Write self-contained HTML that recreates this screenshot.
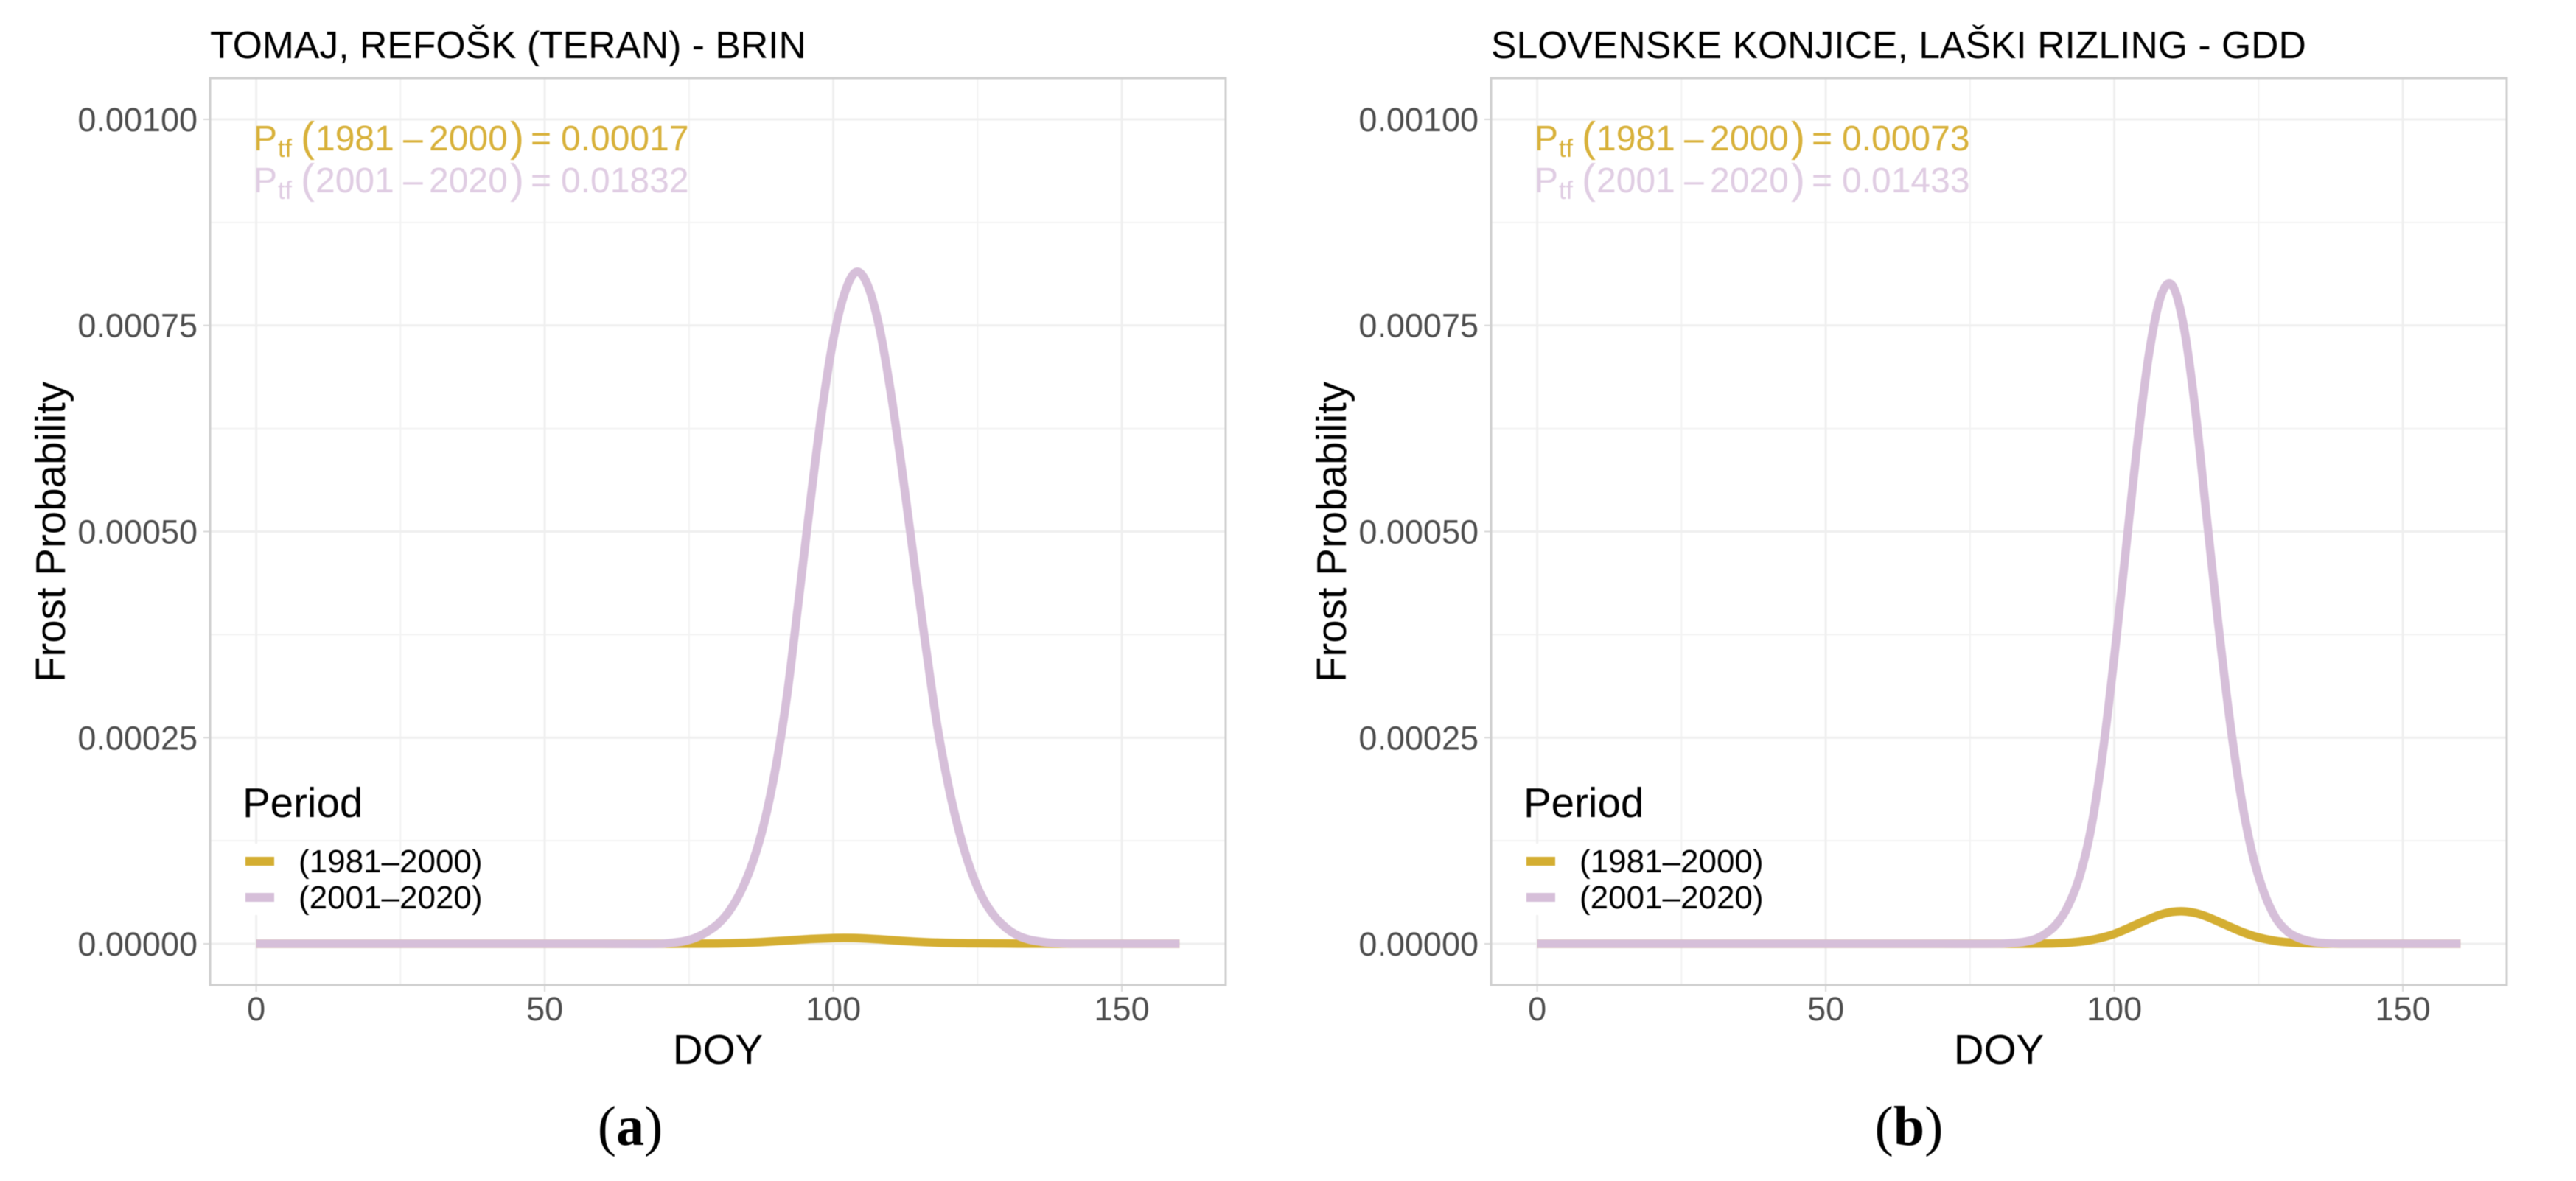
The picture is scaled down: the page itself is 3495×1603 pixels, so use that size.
<!DOCTYPE html>
<html lang="en">
<head>
<meta charset="utf-8">
<title>Frost probability by DOY</title>
<style>
html,body{margin:0;padding:0;background:#fff;}
svg{display:block;filter:blur(0.6px);}
text{font-family:"Liberation Sans",sans-serif;}
.title{font-size:51.7px;fill:#000;}
.axis-title{font-size:56.5px;fill:#000;}
.tick{font-size:45px;fill:#4d4d4d;}
.legend-title{font-size:56.5px;fill:#000;}
.legend-label{font-size:44px;fill:#000;}
.ann{font-size:48px;}
.ann-sub{font-size:34px;}
.ann-paren{font-size:57px;}
.gold{fill:#d8b13a;}
.thistle{fill:#e0cde3;}
.caption{font-family:"Liberation Serif",serif;font-size:76px;fill:#000;}
</style>
</head>
<body>
<svg id="figure" xmlns="http://www.w3.org/2000/svg" width="3495" height="1603" viewBox="0 0 3495 1603">
  <rect x="0" y="0" width="3495" height="1603" fill="#ffffff"/>

  <g id="panel-a">
    <g class="plot-grid"></g>
    <g class="plot-ticks"></g>
    <rect x="331" y="1145" width="43" height="97" fill="#ffffff"/>
    <g class="plot-series"></g>
    <rect x="285" y="106" width="1378" height="1231" fill="none" stroke="#cfcfcf" stroke-width="3"/>
    <text class="title" x="285" y="79">TOMAJ, REFOŠK (TERAN) - BRIN</text>
    <text class="axis-title" x="974" y="1444" text-anchor="middle">DOY</text>
    <text class="axis-title" transform="translate(88,722) rotate(-90)" text-anchor="middle">Frost Probability</text>

    <g class="gold">
      <text class="ann" x="344" y="204">P</text><text class="ann-sub" x="377" y="213">tf</text>
      <text class="ann-paren" x="408" y="205">(</text><text class="ann" x="428" y="204">1981</text>
      <text class="ann" x="547" y="204">–</text><text class="ann" x="582" y="204">2000</text>
      <text class="ann-paren" x="692" y="205">)</text><text class="ann" x="720" y="204">=</text>
      <text class="ann" x="761" y="204">0.00017</text>
    </g>
    <g class="thistle">
      <text class="ann" x="344" y="261">P</text><text class="ann-sub" x="377" y="270">tf</text>
      <text class="ann-paren" x="408" y="262">(</text><text class="ann" x="428" y="261">2001</text>
      <text class="ann" x="547" y="261">–</text><text class="ann" x="582" y="261">2020</text>
      <text class="ann-paren" x="692" y="262">)</text><text class="ann" x="720" y="261">=</text>
      <text class="ann" x="761" y="261">0.01832</text>
    </g>

    <text class="legend-title" x="329" y="1109">Period</text>
    <rect x="333" y="1163" width="39" height="12" fill="#d4ae32"/>
    <rect x="333" y="1212" width="39" height="12" fill="#d6bfd9"/>
    <text class="legend-label" x="405" y="1184">(1981–2000)</text>
    <text class="legend-label" x="405" y="1233">(2001–2020)</text>
  </g>

  <g id="panel-b" transform="translate(1738,0)">
    <g class="plot-grid"></g>
    <g class="plot-ticks"></g>
    <rect x="331" y="1145" width="43" height="97" fill="#ffffff"/>
    <g class="plot-series"></g>
    <rect x="285" y="106" width="1378" height="1231" fill="none" stroke="#cfcfcf" stroke-width="3"/>
    <text class="title" x="285" y="79">SLOVENSKE KONJICE, LAŠKI RIZLING - GDD</text>
    <text class="axis-title" x="974" y="1444" text-anchor="middle">DOY</text>
    <text class="axis-title" transform="translate(88,722) rotate(-90)" text-anchor="middle">Frost Probability</text>

    <g class="gold">
      <text class="ann" x="344" y="204">P</text><text class="ann-sub" x="377" y="213">tf</text>
      <text class="ann-paren" x="408" y="205">(</text><text class="ann" x="428" y="204">1981</text>
      <text class="ann" x="547" y="204">–</text><text class="ann" x="582" y="204">2000</text>
      <text class="ann-paren" x="692" y="205">)</text><text class="ann" x="720" y="204">=</text>
      <text class="ann" x="761" y="204">0.00073</text>
    </g>
    <g class="thistle">
      <text class="ann" x="344" y="261">P</text><text class="ann-sub" x="377" y="270">tf</text>
      <text class="ann-paren" x="408" y="262">(</text><text class="ann" x="428" y="261">2001</text>
      <text class="ann" x="547" y="261">–</text><text class="ann" x="582" y="261">2020</text>
      <text class="ann-paren" x="692" y="262">)</text><text class="ann" x="720" y="261">=</text>
      <text class="ann" x="761" y="261">0.01433</text>
    </g>

    <text class="legend-title" x="329" y="1109">Period</text>
    <rect x="333" y="1163" width="39" height="12" fill="#d4ae32"/>
    <rect x="333" y="1212" width="39" height="12" fill="#d6bfd9"/>
    <text class="legend-label" x="405" y="1184">(1981–2000)</text>
    <text class="legend-label" x="405" y="1233">(2001–2020)</text>
  </g>

  <text class="caption" x="855" y="1554" text-anchor="middle">(<tspan font-weight="bold">a</tspan>)</text>
  <text class="caption" x="2590" y="1554" text-anchor="middle">(<tspan font-weight="bold">b</tspan>)</text>
</svg>

<script>
// Axis ticks
const xMajorTicks = [0, 50, 100, 150];
const xMinorTicks = [25, 75, 125];
const xTickLabels = ["0", "50", "100", "150"];
const yMajorTicks = [0, 0.00025, 0.0005, 0.00075, 0.001];
const yMinorTicks = [0.000125, 0.000375, 0.000625, 0.000875];
const yTickLabels = ["0.00000", "0.00025", "0.00050", "0.00075", "0.00100"];

// Panel a: TOMAJ, REFOSK (TERAN) - BRIN
const doyGoldA = [0, 60, 70, 76, 80, 84, 88, 92, 96, 100, 102, 104, 108, 112, 116, 120, 124, 128, 132, 136, 140, 160];
const probGoldA = [0, 0, 0, 0.0000001, 0.0000003, 0.000001, 0.0000023, 0.000004, 0.0000058, 0.000007, 0.0000072, 0.000007, 0.0000055, 0.0000035, 0.000002, 0.000001, 0.0000006, 0.0000004, 0.0000002, 0.0000001, 0, 0];
const doyThistleA = [0, 60, 70, 72, 74, 76, 78, 80, 82, 84, 86, 88, 90, 92, 94, 96, 98, 100, 102, 104, 106, 108, 110, 112, 114, 116, 118, 120, 122, 124, 126, 128, 130, 132, 134, 136, 138, 140, 142, 160];
const probThistleA = [0, 0, 0, 0.0000012, 0.000003, 0.000007, 0.000014, 0.000024, 0.00004, 0.000064, 0.000098, 0.000146, 0.000213, 0.000302, 0.000417, 0.000535, 0.000645, 0.000733, 0.00079, 0.000815, 0.000798, 0.000747, 0.000667, 0.00057, 0.000464, 0.000362, 0.000265, 0.00019, 0.000131, 0.000086, 0.000054, 0.000033, 0.000019, 0.00001, 0.000005, 0.0000025, 0.000001, 0.0000004, 0, 0];

// Panel b: SLOVENSKE KONJICE, LASKI RIZLING - GDD
const doyGoldB = [0, 70, 84, 86, 88, 90, 92, 94, 96, 98, 100, 102, 104, 106, 108, 110, 112, 114, 116, 118, 120, 122, 124, 126, 128, 130, 132, 134, 136, 138, 140, 160];
const probGoldB = [0, 0, 0, 0.0000001, 0.00000025, 0.0000006, 0.0000013, 0.0000026, 0.0000047, 0.0000078, 0.000012, 0.0000177, 0.000024, 0.00003, 0.0000354, 0.0000387, 0.0000394, 0.0000374, 0.000033, 0.000027, 0.0000208, 0.0000148, 0.0000098, 0.0000061, 0.0000035, 0.0000019, 0.000001, 0.00000045, 0.0000002, 0.0000001, 0, 0];
const doyThistleB = [0, 70, 80, 82, 84, 86, 88, 90, 92, 94, 96, 98, 100, 102, 104, 106, 108, 110, 112, 114, 116, 118, 120, 122, 124, 126, 128, 130, 132, 134, 136, 138, 140, 160];
const probThistleB = [0, 0, 0, 0.0000008, 0.000002, 0.000005, 0.000012, 0.000024, 0.000046, 0.000082, 0.000141, 0.000232, 0.000348, 0.000478, 0.000607, 0.000715, 0.000784, 0.000799, 0.00075, 0.00065, 0.000518, 0.000389, 0.000272, 0.000177, 0.000107, 0.000061, 0.000031, 0.000015, 0.000007, 0.000003, 0.0000011, 0.0000004, 0, 0];

const SVG_NS = "http://www.w3.org/2000/svg";
const PLOT = {left: 285, right: 1663, top: 106, bottom: 1337, xMin: -8, xMax: 168, yMin: -0.00005, yMax: 0.00105};

function xScale(d) {
  return PLOT.left + (d - PLOT.xMin) / (PLOT.xMax - PLOT.xMin) * (PLOT.right - PLOT.left);
}
function yScale(v) {
  return PLOT.bottom - (v - PLOT.yMin) / (PLOT.yMax - PLOT.yMin) * (PLOT.bottom - PLOT.top);
}
function makeLine(x1, y1, x2, y2, color, width) {
  const el = document.createElementNS(SVG_NS, "line");
  el.setAttribute("x1", x1);
  el.setAttribute("y1", y1);
  el.setAttribute("x2", x2);
  el.setAttribute("y2", y2);
  el.setAttribute("stroke", color);
  el.setAttribute("stroke-width", width);
  return el;
}
function smoothPath(xs, ys) {
  const pts = xs.map(function (d, i) { return [xScale(d), yScale(ys[i])]; });
  let path = "M" + pts[0][0].toFixed(2) + " " + pts[0][1].toFixed(2);
  for (let i = 0; i < pts.length - 1; i++) {
    const p0 = pts[Math.max(i - 1, 0)];
    const p1 = pts[i];
    const p2 = pts[i + 1];
    const p3 = pts[Math.min(i + 2, pts.length - 1)];
    const span = p2[0] - p1[0];
    const t1 = (p2[1] - p0[1]) / (p2[0] - p0[0] || 1);
    const t2 = (p3[1] - p1[1]) / (p3[0] - p1[0] || 1);
    path += " C" + (p1[0] + span / 3).toFixed(2) + " " + (p1[1] + t1 * span / 3).toFixed(2) +
            " " + (p2[0] - span / 3).toFixed(2) + " " + (p2[1] - t2 * span / 3).toFixed(2) +
            " " + p2[0].toFixed(2) + " " + p2[1].toFixed(2);
  }
  return path;
}
function drawGrid(panelId) {
  const grid = document.querySelector("#" + panelId + " .plot-grid");
  yMinorTicks.forEach(function (v) {
    const ln = makeLine(PLOT.left, yScale(v), PLOT.right, yScale(v), "#f3f3f3", 2);
    
    
    grid.appendChild(ln);
  });
  xMinorTicks.forEach(function (d) {
    const ln = makeLine(xScale(d), PLOT.top, xScale(d), PLOT.bottom, "#f3f3f3", 2);
    
    
    grid.appendChild(ln);
  });
  yMajorTicks.forEach(function (v) {
    const ln = makeLine(PLOT.left, yScale(v), PLOT.right, yScale(v), "#efefef", 3);
    
    
    grid.appendChild(ln);
  });
  xMajorTicks.forEach(function (d) {
    const ln = makeLine(xScale(d), PLOT.top, xScale(d), PLOT.bottom, "#efefef", 3);
    
    
    grid.appendChild(ln);
  });
}
function drawTicks(panelId) {
  const group = document.querySelector("#" + panelId + " .plot-ticks");
  xMajorTicks.forEach(function (d, i) {
    const mark = makeLine(xScale(d), PLOT.bottom, xScale(d), PLOT.bottom + 9, "#d8d8d8", 2);
    
    
    group.appendChild(mark);
    const label = document.createElementNS(SVG_NS, "text");
    label.setAttribute("class", "tick");
    label.setAttribute("x", xScale(d));
    label.setAttribute("y", PLOT.bottom + 48);
    label.setAttribute("text-anchor", "middle");
    
    
    label.textContent = xTickLabels[i];
    group.appendChild(label);
  });
  yMajorTicks.forEach(function (v, i) {
    const mark = makeLine(PLOT.left - 9, yScale(v), PLOT.left, yScale(v), "#d8d8d8", 2);
    
    
    group.appendChild(mark);
    const label = document.createElementNS(SVG_NS, "text");
    label.setAttribute("class", "tick");
    label.setAttribute("x", 268);
    label.setAttribute("y", yScale(v) + 16);
    label.setAttribute("text-anchor", "end");
    
    
    label.textContent = yTickLabels[i];
    group.appendChild(label);
  });
}
function drawSeries(panelId, xs, ys, color, name) {
  const group = document.querySelector("#" + panelId + " .plot-series");
  const el = document.createElementNS(SVG_NS, "path");
  el.setAttribute("d", smoothPath(xs, ys));
  el.setAttribute("fill", "none");
  el.setAttribute("stroke", color);
  el.setAttribute("stroke-width", 11.5);
  el.setAttribute("stroke-linejoin", "round");
  
  
  group.appendChild(el);
}

drawGrid("panel-a");
drawTicks("panel-a");
drawSeries("panel-a", doyGoldA, probGoldA, "#d4ae32", "line-1981-2000");
drawSeries("panel-a", doyThistleA, probThistleA, "#d6bfd9", "line-2001-2020");

drawGrid("panel-b");
drawTicks("panel-b");
drawSeries("panel-b", doyGoldB, probGoldB, "#d4ae32", "line-1981-2000");
drawSeries("panel-b", doyThistleB, probThistleB, "#d6bfd9", "line-2001-2020");
</script>
</body>
</html>
